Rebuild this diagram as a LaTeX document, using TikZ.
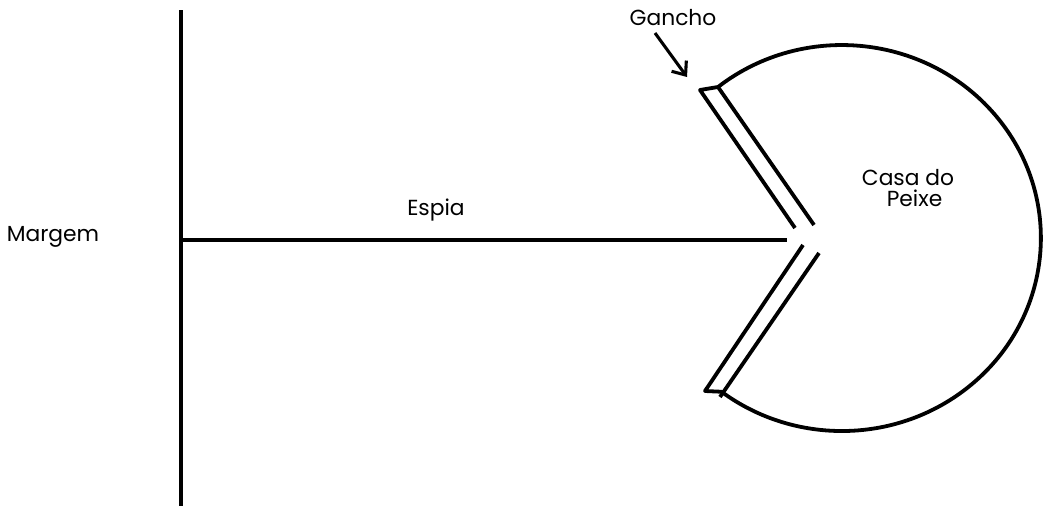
\documentclass[tikz,border=0pt]{standalone}
\usepackage{fontspec}
\setmainfont{Poppins}
\usetikzlibrary{arrows.meta, positioning}

\begin{document}
\begin{tikzpicture}[
        x=0.025cm, y=-0.025cm,
        font=\fontsize{15.5}{18}\selectfont,
        traco/.style={
            draw=black,
            line width=2.7pt,
            line join=round
        },
        rotulo/.style={
            align=center,
            inner sep=1pt,
            text=black
        },
        seta/.style={
            traco,
            line width=2.2pt,
            -{Straight Barb[length=8pt,width=13pt,line width=2.2pt]}
        }
    ]

    % escala: 1 unidade = 1 pixel da figura original, y para baixo
    \useasboundingbox (0,0) rectangle (1043,506);

    % margem e espia
    \coordinate (margemTopo) at (181,10);
    \coordinate (margemBase) at (181,506);
    \coordinate (espiaInicio) at (181,240);
    \coordinate (espiaFim) at (787,240);
    \draw[traco] (margemTopo) -- (margemBase);
    \draw[traco] (espiaInicio) -- (espiaFim);

    % gancho superior e inferior
    \coordinate (ganchoSupExt) at (700,90);
    \coordinate (ganchoSupExtFim) at (795,228);
    \coordinate (ganchoSupInt) at (718,87);
    \coordinate (ganchoSupIntFim) at (814,225);
    \coordinate (ganchoInfExt) at (705,391);
    \coordinate (ganchoInfExtFim) at (803,245);
    \coordinate (ganchoInfInt) at (720,397);
    \coordinate (ganchoInfIntFim) at (819,253);

    % casa do peixe
    \draw[traco] (ganchoSupExtFim) -- (ganchoSupExt) -- (ganchoSupInt)
        arc[start angle=-128.5, end angle=127.2, x radius=199, y radius=193]
        -- (ganchoInfExt) -- (ganchoInfExtFim);
    \draw[traco] (ganchoSupInt) -- (ganchoSupIntFim);
    \draw[traco] (ganchoInfInt) -- (ganchoInfIntFim);

    \node[rotulo] (margem) at (53,237) {Margem};
    \node[rotulo] (espia) at (436,210) {Espia};
    \node[rotulo] (gancho) at (673,18) {Gancho};
    \node[rotulo] (casa) at (908,188) {Casa do\\[-3pt]\hspace*{0.6em}Peixe};

    \coordinate (pontaSeta) at (687,77);
    \draw[seta] (655,33) -- (pontaSeta);

\end{tikzpicture}
\end{document}
